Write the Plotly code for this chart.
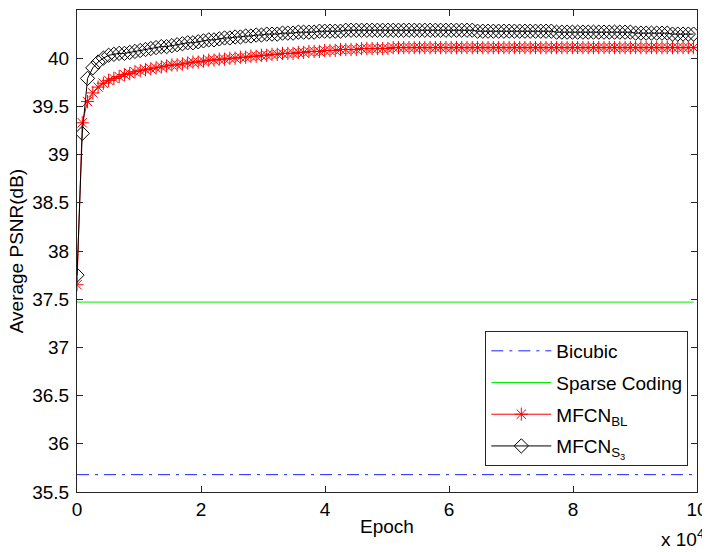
import plotly.graph_objects as go

# ---- data -------------------------------------------------------------
epochs = list(range(0, 100000, 850))  # sample positions (every 850 epochs)

mfcn_s3 = [
    37.75, 39.22, 39.79, 39.90, 39.96, 40.00, 40.03, 40.04, 40.05, 40.05,
    40.06, 40.07, 40.08, 40.09, 40.10, 40.11, 40.12, 40.12, 40.13, 40.14,
    40.15, 40.16, 40.16, 40.17, 40.18, 40.19, 40.19, 40.20, 40.21, 40.21,
    40.22, 40.22, 40.23, 40.23, 40.24, 40.24, 40.25, 40.25, 40.25, 40.26,
    40.26, 40.26, 40.27, 40.27, 40.27, 40.27, 40.28, 40.28, 40.28, 40.28,
    40.28, 40.29, 40.29, 40.29, 40.29, 40.29, 40.29, 40.29, 40.29, 40.29,
    40.29, 40.29, 40.29, 40.29, 40.29, 40.29, 40.29, 40.29, 40.29, 40.29,
    40.29, 40.29, 40.29, 40.29, 40.29, 40.29, 40.28, 40.28, 40.28, 40.28,
    40.28, 40.28, 40.28, 40.28, 40.28, 40.28, 40.28, 40.28, 40.28, 40.28,
    40.28, 40.27, 40.27, 40.27, 40.27, 40.27, 40.27, 40.27, 40.27, 40.27,
    40.27, 40.27, 40.27, 40.27, 40.27, 40.27, 40.26, 40.26, 40.26, 40.26,
    40.26, 40.26, 40.26, 40.25, 40.25, 40.25, 40.25, 40.25,
]

mfcn_bl = [
    37.65, 39.33, 39.55, 39.64, 39.70, 39.74, 39.77, 39.79, 39.81, 39.83,
    39.84, 39.86, 39.87, 39.88, 39.89, 39.90, 39.91, 39.92, 39.93, 39.93,
    39.94, 39.95, 39.96, 39.96, 39.97, 39.98, 39.98, 39.99, 39.99, 40.00,
    40.00, 40.01, 40.01, 40.02, 40.02, 40.03, 40.03, 40.04, 40.04, 40.05,
    40.05, 40.05, 40.06, 40.06, 40.07, 40.07, 40.07, 40.08, 40.08, 40.08,
    40.09, 40.09, 40.09, 40.09, 40.10, 40.10, 40.10, 40.10, 40.10, 40.10,
    40.11, 40.11, 40.11, 40.11, 40.11, 40.11, 40.11, 40.11, 40.11, 40.11,
    40.11, 40.11, 40.11, 40.11, 40.11, 40.11, 40.11, 40.11, 40.11, 40.11,
    40.11, 40.11, 40.11, 40.11, 40.11, 40.11, 40.11, 40.11, 40.11, 40.11,
    40.11, 40.11, 40.11, 40.11, 40.11, 40.11, 40.11, 40.11, 40.11, 40.11,
    40.11, 40.11, 40.11, 40.11, 40.11, 40.11, 40.11, 40.11, 40.11, 40.11,
    40.11, 40.11, 40.11, 40.11, 40.11, 40.11, 40.11, 40.11,
]

bicubic_psnr = 35.68
sparse_coding_psnr = 37.47

x_tick_vals = [0, 20000, 40000, 60000, 80000, 100000]
x_tick_text = ["0", "2", "4", "6", "8", "10"]
y_tick_vals = [35.5, 36, 36.5, 37, 37.5, 38, 38.5, 39, 39.5, 40, 40.5]
y_tick_text = ["35.5", "36", "36.5", "37", "37.5", "38", "38.5", "39", "39.5", "40", "40.5"]

line_x = [0, 99450]

FONT = "Liberation Sans, Arial, Helvetica, sans-serif"

fig = go.Figure()

fig.add_trace(go.Scatter(
    x=line_x, y=[bicubic_psnr] * len(line_x), mode="lines", name="Bicubic",
    legendgroup="a",
    line=dict(color="#2020ff", width=1, dash="12px,6px,3px,6px"),
))
fig.add_trace(go.Scatter(
    x=line_x, y=[sparse_coding_psnr] * len(line_x), mode="lines", name="Sparse Coding",
    legendgroup="b",
    line=dict(color="#00ee00", width=1),
))
fig.add_trace(go.Scatter(
    x=epochs, y=mfcn_bl, mode="lines+markers", name="MFCN<sub>BL</sub>",
    legendgroup="c",
    line=dict(color="#ff0000", width=1),
    marker=dict(symbol="asterisk-open", size=11, color="#ff0000",
                line=dict(color="#ff0000", width=1)),
))
fig.add_trace(go.Scatter(
    x=epochs, y=mfcn_s3, mode="lines+markers", name="MFCN<sub>S<sub>3</sub></sub>",
    legendgroup="d",
    line=dict(color="#000000", width=1),
    marker=dict(symbol="diamond-open", size=11, color="#000000",
                line=dict(color="#000000", width=1)),
))

axis_common = dict(
    showline=True, linecolor="#262626", linewidth=1, mirror="ticks",
    ticks="inside", ticklen=6, tickcolor="#262626", tickwidth=1,
    showgrid=False, zeroline=False, automargin=False,
    tickfont=dict(family=FONT, size=19, color="#000000"),
)

# The page body adds an 8 px offset, so the figure is 702x544 and the
# margins are measured from that offset.
fig.update_layout(
    width=702, height=544,
    margin=dict(l=69, r=13, t=2, b=60, pad=0),
    paper_bgcolor="white", plot_bgcolor="white",
    font=dict(family=FONT, size=19, color="#000000"),
    xaxis=dict(range=[0, 100000], tickvals=x_tick_vals, ticktext=x_tick_text,
               ticklabelstandoff=0, **axis_common),
    yaxis=dict(range=[35.5, 40.5], tickvals=y_tick_vals, ticktext=y_tick_text,
               ticklabelstandoff=3, **axis_common),
    legend=dict(
        x=0.986, y=0.054, xanchor="right", yanchor="bottom",
        bgcolor="white", bordercolor="#262626", borderwidth=1,
        font=dict(family=FONT, size=19, color="#000000"),
        itemwidth=60, tracegroupgap=4,
    ),
    showlegend=True,
    annotations=[
        dict(text="Epoch", xref="paper", yref="paper", x=0.5, y=-0.0717,
             xanchor="center", yanchor="middle", showarrow=False,
             font=dict(family=FONT, size=19)),
        dict(text="Average PSNR(dB)", xref="paper", yref="paper", x=-0.098, y=0.5,
             xanchor="center", yanchor="middle", textangle=-90, showarrow=False,
             font=dict(family=FONT, size=19)),
        dict(text="x 10<sup>4</sup>", xref="paper", yref="paper", x=1.0, y=-0.095,
             xanchor="right", yanchor="middle", xshift=9, showarrow=False,
             font=dict(family=FONT, size=19)),
    ],
)

fig.write_html("out.html")
